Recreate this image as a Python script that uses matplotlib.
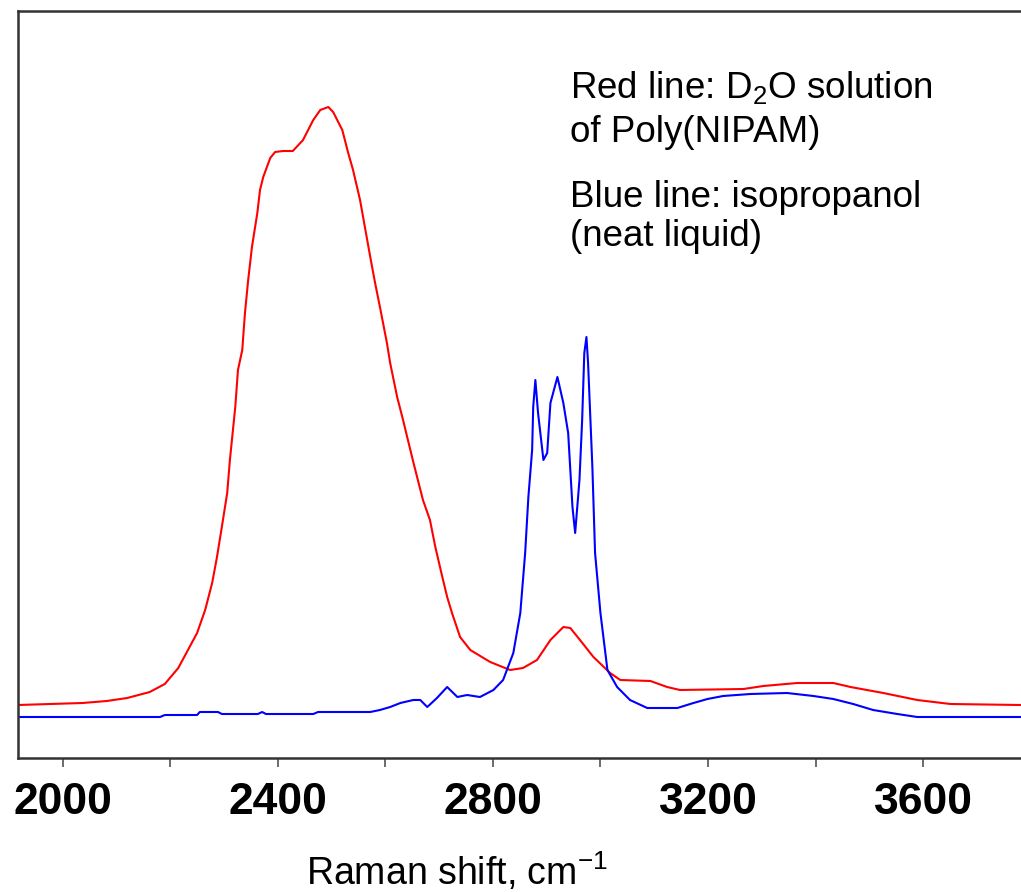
import matplotlib
matplotlib.use("Agg")
import matplotlib.pyplot as plt
from matplotlib.ticker import FixedLocator

plt.rcParams['font.family'] = ['Liberation Sans', 'DejaVu Sans']
plt.rcParams['mathtext.fontset'] = 'custom'
plt.rcParams['mathtext.rm'] = 'Liberation Sans'
plt.rcParams['mathtext.default'] = 'regular'

# Red line: D2O solution of Poly(NIPAM)
red_x = [1917, 2037, 2082, 2120, 2162, 2190, 2215, 2231, 2250, 2265, 2278, 2287,
         2296, 2306, 2311, 2321, 2326, 2334, 2339, 2345, 2352, 2362, 2367, 2373,
         2386, 2395, 2410, 2428, 2447, 2466, 2479, 2494, 2503, 2520, 2531, 2540,
         2553, 2562, 2572, 2581, 2590, 2603, 2609, 2622, 2633, 2642, 2652, 2670,
         2683, 2693, 2706, 2715, 2724, 2739, 2758, 2795, 2832, 2856, 2882, 2907,
         2931, 2944, 2962, 2987, 3018, 3037, 3093, 3124, 3148, 3266, 3303, 3366,
         3433, 3465, 3526, 3589, 3651, 3780]
red_y = [53, 55, 57, 60, 66, 74, 90, 106, 125, 148, 175, 201,
         231, 265, 298, 351, 388, 408, 445, 478, 511, 545, 568, 581,
         600, 606, 607, 607, 618, 638, 648, 651, 646, 628, 605, 588,
         558, 531, 501, 475, 451, 415, 395, 361, 338, 318, 296, 258,
         238, 211, 181, 161, 145, 121, 108, 96, 88, 90, 98, 118,
         131, 130, 118, 101, 85, 78, 77, 71, 68, 69, 72, 75,
         75, 71, 65, 58, 54, 53]

# Blue line: isopropanol (neat liquid)
blue_x = [1917, 2181, 2190, 2250, 2255, 2289, 2296, 2363, 2371, 2378, 2466, 2475,
          2572, 2590, 2609, 2628, 2652, 2665, 2678, 2696, 2715, 2734, 2752, 2776,
          2801, 2819, 2838, 2851, 2860, 2866, 2873, 2875, 2879, 2884, 2894, 2901,
          2907, 2920, 2931, 2940, 2948, 2953, 2961, 2966, 2970, 2974, 2977, 2985,
          2990, 3000, 3013, 3031, 3055, 3087, 3143, 3173, 3199, 3228, 3279, 3347,
          3396, 3433, 3470, 3507, 3552, 3589, 3780]
blue_y = [41, 41, 43, 43, 46, 46, 44, 44, 46, 44, 44, 46,
          46, 48, 51, 55, 58, 58, 51, 60, 71, 61, 63, 61,
          68, 78, 105, 145, 205, 261, 308, 351, 378, 345, 298, 305,
          355, 381, 355, 325, 251, 225, 278, 338, 405, 421, 395, 291,
          205, 145, 88, 71, 58, 50, 50, 55, 59, 62, 64, 65,
          62, 59, 54, 48, 44, 41, 41]

major_ticks = [2000, 2400, 2800, 3200, 3600]
minor_ticks = [2200, 2600, 3000, 3400]
tick_labels = ['2000', '2400', '2800', '3200', '3600']

W, H = 1021, 892
fig = plt.figure(figsize=(W / 100, H / 100), dpi=100)
ax = fig.add_axes([18 / W, 1 - 758 / H, (W - 18) / W, (758 - 11) / H])

ax.plot(red_x, red_y, color='#ff0000', lw=1.5)
ax.plot(blue_x, blue_y, color='#0000ff', lw=1.5)

ax.set_xlim(1917, 3782)
ax.set_ylim(0, 747)

ax.xaxis.set_major_locator(FixedLocator(major_ticks))
ax.xaxis.set_minor_locator(FixedLocator(minor_ticks))
ax.set_xticklabels(tick_labels, fontsize=32, fontweight='bold')
ax.tick_params(axis='x', which='both', direction='out', length=6.5, width=1.1,
               color='#444444', pad=11)
ax.set_yticks([])

for s in ['left', 'top', 'bottom']:
    ax.spines[s].set_linewidth(1.8)
    ax.spines[s].set_color('#333333')
ax.spines['right'].set_visible(False)

fig.text(457 / W, 1 - 885 / H, 'Raman shift, cm$^{-1}$', fontsize=27,
         ha='center', va='baseline')

tx = 570 / W
fs = 26.5
fig.text(tx, 1 - 98 / H, 'Red line: D$_2$O solution', fontsize=fs, va='baseline')
fig.text(tx, 1 - 142 / H, 'of Poly(NIPAM)', fontsize=fs, va='baseline')
fig.text(tx, 1 - 207 / H, 'Blue line: isopropanol', fontsize=fs, va='baseline')
fig.text(tx, 1 - 246 / H, '(neat liquid)', fontsize=fs, va='baseline')

fig.savefig('out.png', dpi=100)
